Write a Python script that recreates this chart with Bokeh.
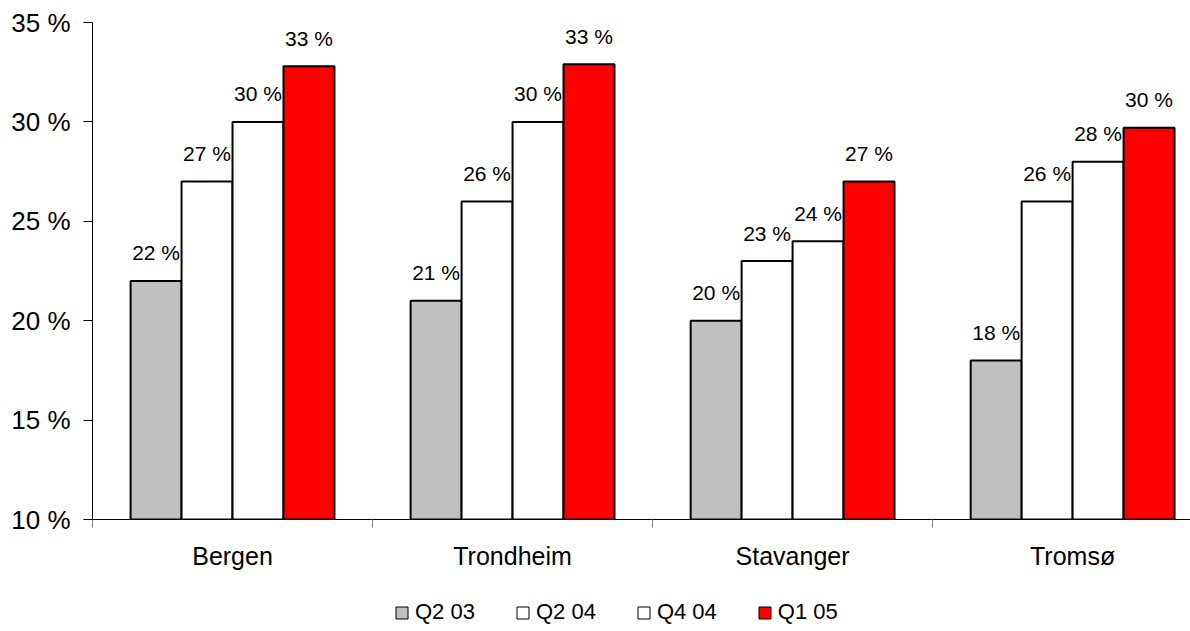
from bokeh.plotting import figure
from bokeh.layouts import column
from bokeh.models import (Range1d, FixedTicker, Legend, LegendItem, ColumnDataSource)
from bokeh.core.properties import value
from bokeh.embed import file_html
from bokeh.resources import INLINE

cities = ["Bergen", "Trondheim", "Stavanger", "Tromsø"]
series = ["Q2 03", "Q2 04", "Q4 04", "Q1 05"]
q2_03 = [22, 21, 20, 18]
q2_04 = [27, 26, 23, 26]
q4_04 = [30, 30, 24, 28]
q1_05 = [32.8, 32.9, 27, 29.7]
y_ticks = [10, 15, 20, 25, 30, 35]

colors = ["#C0C0C0", "#FFFFFF", "#FFFFFF", "#FF0000"]
offsets = [-0.273, -0.091, 0.091, 0.273]
bar_w = 0.182
FONT = "Liberation Sans"

p = figure(width=1190, height=580, output_backend="svg", toolbar_location=None,
           x_range=Range1d(0, 3.921), y_range=Range1d(10, 35),
           min_border_left=92, min_border_top=22, min_border_right=0,
           min_border_bottom=61)
p.outline_line_color = None
p.grid.visible = False
p.background_fill_color = "white"

# legend strip below the chart (swatch renderers sit outside its visible range)
leg = figure(width=1190, height=51, output_backend="svg", toolbar_location=None,
             x_range=Range1d(0, 1), y_range=Range1d(0, 1),
             min_border_left=0, min_border_top=0, min_border_right=0,
             min_border_bottom=0)
leg.axis.visible = False
leg.grid.visible = False
leg.outline_line_color = None

items = []
all_vals = [q2_03, q2_04, q4_04, q1_05]
for vals, name, col, off in zip(all_vals, series, colors, offsets):
    src = ColumnDataSource(dict(
        x=[i + 0.5 + off for i in range(len(cities))],
        top=vals,
        lbl=[f"{round(v)} %" for v in vals],
    ))
    p.vbar(x="x", top="top", bottom=10, width=bar_w, source=src,
           fill_color=col, line_color="black", line_width=2)
    p.text(x="x", y="top", text="lbl", source=src, text_align="center",
           text_baseline="alphabetic", y_offset=-28, text_font=value(FONT),
           text_font_size="21px", text_color="black")
    lr = leg.vbar(x=[-5], top=[-5], bottom=-6, width=0.1, fill_color=col,
                  line_color="black", line_width=1)
    items.append(LegendItem(label=name, renderers=[lr]))

# y axis
ya = p.yaxis[0]
ya.ticker = FixedTicker(ticks=y_ticks)
ya.major_label_overrides = {t: f"{t} %" for t in y_ticks}
ya.major_label_text_font = FONT
ya.major_label_text_font_size = "26px"
ya.major_label_text_color = "black"
ya.major_tick_out = 9
ya.major_tick_in = 0
ya.minor_tick_out = 0
ya.minor_tick_in = 0
ya.major_label_standoff = 13
ya.axis_line_color = "black"
ya.major_tick_line_color = "black"

# x axis
xa = p.xaxis[0]
xa.ticker = FixedTicker(ticks=[i + 0.5 for i in range(len(cities))],
                        minor_ticks=[float(i) for i in range(len(cities))])
xa.major_label_overrides = {i + 0.5: c for i, c in enumerate(cities)}
xa.major_label_text_font = FONT
xa.major_label_text_font_size = "25px"
xa.major_label_text_color = "black"
xa.major_tick_out = 0
xa.major_tick_in = 0
xa.minor_tick_out = 8
xa.minor_tick_in = 0
xa.minor_tick_line_color = "#808080"
xa.major_label_standoff = 14
xa.axis_line_color = "black"

legend = Legend(items=items, orientation="horizontal", location=(302, 6),
                glyph_width=15, glyph_height=15, label_standoff=6, spacing=40,
                label_height=16,
                label_text_font=FONT, label_text_font_size="22px",
                label_text_color="black", border_line_color=None,
                background_fill_alpha=0, padding=4, margin=0)
leg.add_layout(legend, "center")

layout = column(p, leg, spacing=0)
open("out.html", "w").write(file_html(layout, INLINE))
